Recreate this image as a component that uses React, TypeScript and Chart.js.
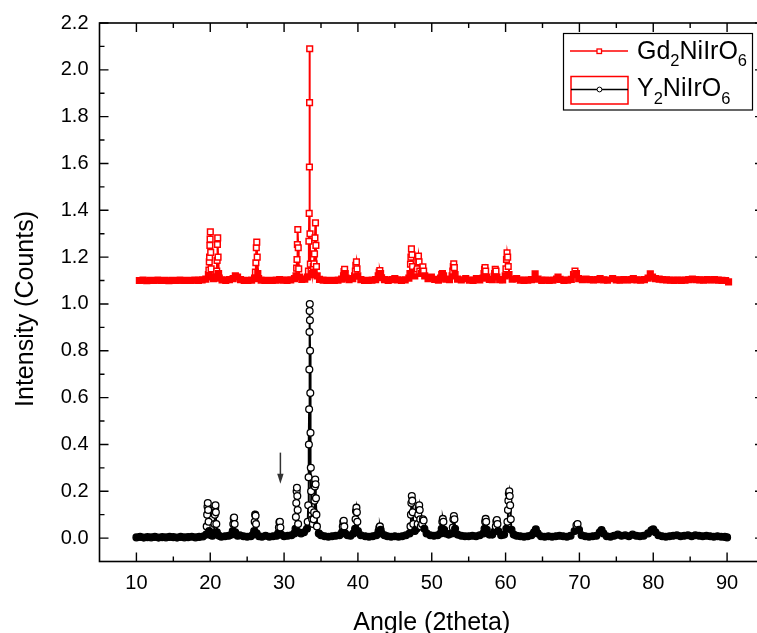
import React, { useEffect, useRef } from "react";
import { Chart, registerables } from "chart.js";

Chart.register(...registerables);

const FONT = "'Liberation Sans', Arial, sans-serif";

const xTicks = [10, 20, 30, 40, 50, 60, 70, 80, 90];
const xMinorTicks = [15, 25, 35, 45, 55, 65, 75, 85];
const yTicks = [0, 0.2, 0.4, 0.6, 0.8, 1.0, 1.2, 1.4, 1.6, 1.8, 2.0, 2.2];
const yMinorTicks = [0.1, 0.3, 0.5, 0.7, 0.9, 1.1, 1.3, 1.5, 1.7, 1.9, 2.1];

const xTitle = "Angle (2theta)";
const yTitle = "Intensity (Counts)";

// legend labels as [text, isSubscript] parts
const gdLabel: [string, boolean][] = [["Gd", false], ["2", true], ["NiIrO", false], ["6", true]];
const yLabel: [string, boolean][] = [["Y", false], ["2", true], ["NiIrO", false], ["6", true]];

const gdBase = 1.1;
const yBase = 0;

// arrow marker (angle, intensity from, intensity to)
const arrowMark = [29.5, 0.365, 0.232];

// Gd2NiIrO6 pattern (offset by +1.1)
const gdPattern: [number, number][] = [
  [10.4, 1.1], [10.9, 1.102], [11.4, 1.099], [11.9, 1.101], [12.4, 1.1], [12.9, 1.102], [13.4, 1.1], [13.9, 1.101],
  [14.4, 1.099], [14.9, 1.101], [15.4, 1.1], [15.9, 1.102], [16.4, 1.1], [16.9, 1.101], [17.4, 1.1], [17.9, 1.102],
  [18.4, 1.101], [18.9, 1.103], [19.4, 1.106],
  [19.75, 1.125], [19.82, 1.145], [19.87, 1.18], [19.91, 1.2], [19.95, 1.25], [19.98, 1.277], [20.01, 1.308], [20.06, 1.22], [20.12, 1.15], [20.2, 1.115],
  [20.45, 1.108],
  [20.8, 1.12], [20.88, 1.14], [20.93, 1.186], [20.97, 1.254], [21.01, 1.282], [21.06, 1.2], [21.13, 1.13], [21.22, 1.11],
  [21.6, 1.103], [22.1, 1.101], [22.6, 1.104], [23.1, 1.108], [23.4, 1.12], [23.7, 1.115], [24.1, 1.104], [24.6, 1.101], [25.1, 1.1], [25.6, 1.102], [26.0, 1.11],
  [26.12, 1.136], [26.18, 1.176], [26.24, 1.24], [26.3, 1.264], [26.36, 1.2], [26.44, 1.13], [26.55, 1.108],
  [26.9, 1.102], [27.4, 1.1], [27.9, 1.101], [28.4, 1.1], [28.9, 1.102], [29.4, 1.104], [29.9, 1.102], [30.4, 1.101], [30.9, 1.103], [31.4, 1.108],
  [31.62, 1.12], [31.7, 1.153], [31.75, 1.19], [31.8, 1.254], [31.86, 1.318], [31.92, 1.24], [31.98, 1.15], [32.08, 1.115],
  [32.4, 1.105], [32.8, 1.106], [33.15, 1.115],
  [33.3, 1.14], [33.36, 1.268], [33.4, 1.387], [33.43, 1.585], [33.45, 1.86], [33.47, 2.09], [33.51, 1.3], [33.56, 1.17], [33.65, 1.14], [33.75, 1.125], [33.85, 1.13], [33.95, 1.16],
  [34.05, 1.171], [34.12, 1.214], [34.18, 1.282], [34.25, 1.346], [34.31, 1.25], [34.38, 1.16], [34.48, 1.12],
  [34.8, 1.105], [35.3, 1.102], [35.8, 1.1], [36.3, 1.101], [36.8, 1.1], [37.3, 1.102], [37.8, 1.106],
  [38.05, 1.12], [38.12, 1.138], [38.2, 1.148], [38.28, 1.13], [38.4, 1.11],
  [38.8, 1.104], [39.3, 1.108], [39.55, 1.12],
  [39.65, 1.14], [39.72, 1.165], [39.8, 1.18], [39.88, 1.15], [39.98, 1.12],
  [40.4, 1.104], [40.9, 1.101], [41.4, 1.1], [41.9, 1.102], [42.4, 1.104], [42.75, 1.12],
  [42.88, 1.135], [42.97, 1.143], [43.07, 1.13], [43.2, 1.112],
  [43.6, 1.104], [44.1, 1.101], [44.6, 1.104], [45.0, 1.108], [45.4, 1.103], [45.9, 1.101], [46.4, 1.103], [46.9, 1.11],
  [47.05, 1.13], [47.12, 1.17], [47.18, 1.2], [47.25, 1.235], [47.32, 1.21], [47.4, 1.16], [47.5, 1.13],
  [47.7, 1.12], [47.95, 1.14],
  [48.05, 1.15], [48.12, 1.18], [48.2, 1.204], [48.28, 1.18], [48.38, 1.14],
  [48.62, 1.13], [48.72, 1.15], [48.8, 1.159], [48.9, 1.14], [49.05, 1.12],
  [49.5, 1.108], [49.95, 1.115], [50.4, 1.105], [50.9, 1.102], [51.2, 1.11],
  [51.35, 1.125], [51.45, 1.13], [51.6, 1.12],
  [51.9, 1.106], [52.4, 1.104], [52.75, 1.12],
  [52.85, 1.14], [52.92, 1.16], [52.98, 1.171], [53.06, 1.155], [53.16, 1.125],
  [53.5, 1.106], [54.0, 1.103], [54.6, 1.108], [55.1, 1.102], [55.6, 1.101], [56.05, 1.108], [56.5, 1.103], [56.95, 1.11],
  [57.08, 1.13], [57.15, 1.148], [57.22, 1.155], [57.3, 1.14], [57.42, 1.115],
  [57.8, 1.105], [58.2, 1.104], [58.45, 1.118],
  [58.52, 1.13], [58.6, 1.148], [58.7, 1.14], [58.82, 1.115],
  [59.2, 1.104], [59.6, 1.103], [59.95, 1.12],
  [60.05, 1.15], [60.12, 1.19], [60.2, 1.218], [60.28, 1.2], [60.36, 1.16], [60.46, 1.125],
  [60.9, 1.106], [61.5, 1.108], [62.0, 1.102], [62.5, 1.101], [63.0, 1.102], [63.5, 1.104], [64.0, 1.129], [64.4, 1.106],
  [64.9, 1.101], [65.4, 1.102], [65.9, 1.1], [66.4, 1.102], [66.9, 1.106], [67.1, 1.115], [67.4, 1.105], [67.9, 1.101],
  [68.4, 1.102], [68.9, 1.105], [69.2, 1.125], [69.4, 1.14], [69.6, 1.13], [69.9, 1.108], [70.4, 1.104], [70.9, 1.106],
  [71.4, 1.104], [71.9, 1.103], [72.4, 1.104], [72.8, 1.108], [73.3, 1.103], [73.8, 1.102], [74.5, 1.108], [75.0, 1.103],
  [75.5, 1.102], [76.0, 1.104], [76.5, 1.103], [77.0, 1.104], [77.3, 1.108], [77.8, 1.103], [78.3, 1.102], [78.8, 1.104],
  [79.3, 1.11], [79.6, 1.129], [79.9, 1.115], [80.3, 1.108], [80.8, 1.106], [81.3, 1.104], [81.8, 1.103], [82.3, 1.102],
  [82.8, 1.101], [83.3, 1.102], [83.8, 1.101], [84.3, 1.102], [84.8, 1.104], [85.3, 1.106], [85.8, 1.104], [86.3, 1.103],
  [86.8, 1.102], [87.3, 1.104], [87.8, 1.103], [88.3, 1.104], [88.8, 1.102], [89.3, 1.101], [89.8, 1.1], [90.2, 1.094],
];

// Y2NiIrO6 pattern
const yPattern: [number, number][] = [
  [10, 0.003], [10.5, 0.005], [11, 0.002], [11.5, 0.004], [12, 0.003], [12.5, 0.005], [13, 0.002], [13.5, 0.004],
  [14, 0.003], [14.5, 0.005], [15, 0.004], [15.5, 0.002], [16, 0.005], [16.5, 0.003], [17, 0.004], [17.5, 0.006],
  [18, 0.003], [18.5, 0.005], [19, 0.007],
  [19.45, 0.015], [19.52, 0.05], [19.58, 0.1], [19.63, 0.135], [19.67, 0.15], [19.72, 0.12], [19.78, 0.07], [19.85, 0.03],
  [20.1, 0.012], [20.3, 0.01],
  [20.5, 0.02], [20.57, 0.06], [20.62, 0.1], [20.67, 0.13], [20.71, 0.14], [20.76, 0.11], [20.82, 0.06], [20.9, 0.025],
  [21.2, 0.01], [21.5, 0.006], [22, 0.008], [22.5, 0.01], [22.9, 0.015],
  [23.05, 0.03], [23.12, 0.06], [23.18, 0.085], [23.23, 0.088], [23.3, 0.06], [23.38, 0.025],
  [23.7, 0.01], [24, 0.012], [24.5, 0.008], [25, 0.006], [25.5, 0.008], [25.8, 0.015],
  [25.95, 0.03], [26.02, 0.07], [26.08, 0.1], [26.14, 0.095], [26.2, 0.06], [26.28, 0.02],
  [26.6, 0.008], [27, 0.006], [27.5, 0.01], [28, 0.006], [28.5, 0.008], [29, 0.01], [29.2, 0.02],
  [29.3, 0.045], [29.37, 0.068], [29.43, 0.07], [29.5, 0.045], [29.6, 0.015],
  [30, 0.008], [30.5, 0.01], [31, 0.012], [31.4, 0.02],
  [31.55, 0.04], [31.6, 0.09], [31.65, 0.15], [31.7, 0.2], [31.74, 0.215], [31.79, 0.18], [31.84, 0.12], [31.9, 0.06], [31.98, 0.025],
  [32.3, 0.02], [32.7, 0.025], [33.1, 0.04],
  [33.2, 0.07], [33.27, 0.14], [33.32, 0.26], [33.36, 0.4], [33.39, 0.55], [33.42, 0.72], [33.44, 0.88], [33.46, 0.97],
  [33.48, 1.0], [33.5, 0.93], [33.52, 0.8], [33.55, 0.62], [33.58, 0.45], [33.62, 0.3], [33.66, 0.2], [33.72, 0.12], [33.8, 0.08],
  [33.9, 0.06], [34.0, 0.08],
  [34.07, 0.11], [34.12, 0.16], [34.17, 0.22], [34.22, 0.25], [34.27, 0.23], [34.32, 0.17], [34.38, 0.1], [34.45, 0.05],
  [34.7, 0.02], [35, 0.012], [35.5, 0.008], [36, 0.006], [36.5, 0.008], [37, 0.01], [37.5, 0.012], [37.85, 0.025],
  [37.95, 0.05], [38.02, 0.07], [38.08, 0.074], [38.15, 0.05], [38.25, 0.02],
  [38.6, 0.012], [39, 0.01], [39.4, 0.02],
  [39.62, 0.04], [39.68, 0.08], [39.74, 0.115], [39.8, 0.13], [39.86, 0.11], [39.92, 0.07], [40, 0.03],
  [40.4, 0.012], [41, 0.008], [41.5, 0.006], [42, 0.008], [42.5, 0.012], [42.8, 0.03],
  [42.9, 0.045], [42.98, 0.05], [43.08, 0.035], [43.2, 0.02],
  [43.6, 0.012], [44, 0.008], [44.5, 0.006], [45, 0.008], [45.5, 0.006], [46, 0.008], [46.5, 0.012], [47, 0.02],
  [47.12, 0.05], [47.18, 0.1], [47.24, 0.15], [47.3, 0.18], [47.36, 0.16], [47.42, 0.11], [47.5, 0.06],
  [47.7, 0.03], [47.95, 0.04],
  [48.1, 0.06], [48.17, 0.1], [48.24, 0.13], [48.3, 0.14], [48.37, 0.12], [48.44, 0.08], [48.52, 0.05],
  [48.7, 0.06], [48.8, 0.08], [48.9, 0.075], [49, 0.04],
  [49.3, 0.02], [49.8, 0.012], [50.3, 0.01], [50.8, 0.012], [51.2, 0.02],
  [51.35, 0.04], [51.43, 0.07], [51.5, 0.082], [51.58, 0.07], [51.68, 0.035],
  [51.9, 0.02], [52.3, 0.015], [52.7, 0.02],
  [52.85, 0.045], [52.93, 0.08], [53, 0.094], [53.07, 0.08], [53.16, 0.04],
  [53.5, 0.015], [54, 0.01], [54.5, 0.008], [55, 0.008], [55.5, 0.01], [56, 0.008], [56.5, 0.012], [57, 0.02],
  [57.15, 0.04], [57.23, 0.07], [57.3, 0.082], [57.37, 0.07], [57.46, 0.035],
  [57.8, 0.015], [58.2, 0.015], [58.55, 0.03],
  [58.68, 0.05], [58.75, 0.072], [58.82, 0.077], [58.9, 0.06], [59, 0.03],
  [59.4, 0.012], [59.8, 0.015], [60.1, 0.04],
  [60.25, 0.07], [60.32, 0.12], [60.38, 0.16], [60.44, 0.19], [60.5, 0.2], [60.56, 0.18], [60.62, 0.14], [60.7, 0.08], [60.8, 0.035],
  [61.1, 0.015], [61.5, 0.01], [62, 0.008], [62.5, 0.006], [63, 0.008], [63.5, 0.012], [63.85, 0.025], [64.1, 0.037], [64.35, 0.02],
  [64.8, 0.008], [65.3, 0.006], [65.8, 0.008], [66.3, 0.006], [66.8, 0.008], [67.3, 0.01], [67.8, 0.008], [68.3, 0.006],
  [68.8, 0.01], [69.35, 0.03], [69.6, 0.055], [69.75, 0.06], [69.95, 0.035], [70.3, 0.012],
  [70.8, 0.008], [71.3, 0.006], [71.8, 0.008], [72.3, 0.01], [72.75, 0.025], [73, 0.034], [73.25, 0.02], [73.7, 0.008],
  [74.2, 0.006], [74.7, 0.01], [75.2, 0.015], [75.7, 0.01], [76.2, 0.012], [76.7, 0.008], [77.2, 0.015], [77.7, 0.01],
  [78.2, 0.008], [78.7, 0.01], [79.3, 0.02], [79.75, 0.033], [80, 0.037], [80.3, 0.025], [80.7, 0.012], [81.2, 0.008],
  [81.7, 0.006], [82.2, 0.008], [82.7, 0.01], [83.2, 0.012], [83.7, 0.008], [84.2, 0.01], [84.7, 0.012], [85.2, 0.008],
  [85.7, 0.012], [86.2, 0.01], [86.7, 0.008], [87.2, 0.01], [87.7, 0.008], [88.2, 0.006], [88.7, 0.008], [89.2, 0.006],
  [89.7, 0.005], [90, 0.003],
];

const RED = "#ff0000";
const BLACK = "#000000";

function drawLabel(ctx: CanvasRenderingContext2D, parts: [string, boolean][], x: number, baseline: number) {
  let cx = x;
  for (const [t, sub] of parts) {
    ctx.font = sub ? `16.5px ${FONT}` : `25px ${FONT}`;
    ctx.fillText(t, cx, sub ? baseline + 7.5 : baseline);
    cx += ctx.measureText(t).width;
  }
}

const decorPlugin = {
  id: "decor",
  afterDraw(chart: any) {
    const { ctx, chartArea: a, scales } = chart;
    const xs = scales.x;
    const ys = scales.y;
    ctx.save();
    // frame
    ctx.strokeStyle = "#000";
    ctx.lineWidth = 1.6;
    ctx.strokeRect(a.left, a.top, a.right - a.left, a.bottom - a.top);
    // inward ticks
    ctx.lineWidth = 1.4;
    ctx.beginPath();
    const major = 9;
    const minor = 5;
    for (const v of xTicks) {
      const px = xs.getPixelForValue(v);
      ctx.moveTo(px, a.bottom); ctx.lineTo(px, a.bottom - major);
      ctx.moveTo(px, a.top); ctx.lineTo(px, a.top + major);
    }
    for (const v of xMinorTicks) {
      const px = xs.getPixelForValue(v);
      ctx.moveTo(px, a.bottom); ctx.lineTo(px, a.bottom - minor);
      ctx.moveTo(px, a.top); ctx.lineTo(px, a.top + minor);
    }
    for (const v of yTicks) {
      const py = ys.getPixelForValue(v);
      ctx.moveTo(a.left, py); ctx.lineTo(a.left + major, py);
      ctx.moveTo(a.right, py); ctx.lineTo(a.right - major, py);
    }
    for (const v of yMinorTicks) {
      const py = ys.getPixelForValue(v);
      ctx.moveTo(a.left, py); ctx.lineTo(a.left + minor, py);
      ctx.moveTo(a.right, py); ctx.lineTo(a.right - minor, py);
    }
    ctx.stroke();

    // arrow
    const ax = xs.getPixelForValue(arrowMark[0]);
    const ay1 = ys.getPixelForValue(arrowMark[1]);
    const ay2 = ys.getPixelForValue(arrowMark[2]);
    ctx.strokeStyle = "#333";
    ctx.fillStyle = "#333";
    ctx.lineWidth = 1.5;
    ctx.beginPath();
    ctx.moveTo(ax, ay1); ctx.lineTo(ax, ay2 - 8);
    ctx.stroke();
    ctx.beginPath();
    ctx.moveTo(ax - 3.2, ay2 - 10); ctx.lineTo(ax + 3.2, ay2 - 10); ctx.lineTo(ax, ay2);
    ctx.closePath();
    ctx.fill();

    // axis titles
    ctx.fillStyle = "#000";
    ctx.font = `25px ${FONT}`;
    ctx.textAlign = "center";
    ctx.textBaseline = "alphabetic";
    ctx.fillText(xTitle, (a.left + a.right) / 2, 630);
    ctx.save();
    ctx.translate(33, 309);
    ctx.rotate(-Math.PI / 2);
    ctx.fillText(yTitle, 0, 0);
    ctx.restore();

    // legend
    ctx.textAlign = "left";
    ctx.fillStyle = "#fff";
    ctx.fillRect(563.5, 33.5, 189, 76.5);
    ctx.strokeStyle = "#000";
    ctx.lineWidth = 1.2;
    ctx.strokeRect(563.5, 33.5, 189, 76.5);
    // entry 1
    ctx.strokeStyle = RED;
    ctx.lineWidth = 1.5;
    ctx.beginPath(); ctx.moveTo(570, 51); ctx.lineTo(628, 51); ctx.stroke();
    ctx.fillStyle = "#fff";
    ctx.fillRect(597, 49, 4.5, 4.5);
    ctx.lineWidth = 1.3;
    ctx.strokeRect(597, 49, 4.5, 4.5);
    // entry 2
    ctx.strokeStyle = RED;
    ctx.lineWidth = 1.5;
    ctx.strokeRect(571, 76.5, 57, 27.5);
    ctx.strokeStyle = BLACK;
    ctx.beginPath(); ctx.moveTo(571, 89.5); ctx.lineTo(628, 89.5); ctx.stroke();
    ctx.fillStyle = "#fff";
    ctx.lineWidth = 1;
    ctx.beginPath(); ctx.arc(599.5, 89.5, 2.4, 0, Math.PI * 2); ctx.fill(); ctx.stroke();
    ctx.fillStyle = "#000";
    drawLabel(ctx, gdLabel, 637, 58.5);
    drawLabel(ctx, yLabel, 637, 96);
    ctx.restore();
  },
};

export default function App() {
  const ref = useRef<HTMLCanvasElement | null>(null);
  useEffect(() => {
    if (!ref.current) return;
    const fill = (color: string, base: number, limit: number) => (c: any) => {
      const r = c.raw as [number, number] | undefined;
      if (!r) return "#fff";
      return r[1] - base < limit ? color : "#fff";
    };
    const chart = new Chart(ref.current, {
      type: "line",
      data: {
        datasets: [
          {
            label: "Gd2NiIrO6",
            data: gdPattern as any,
            borderColor: RED,
            borderWidth: 2,
            pointStyle: "rect",
            pointRadius: 4,
            pointBorderWidth: 1.5,
            pointBorderColor: RED,
            pointBackgroundColor: fill(RED, gdBase, 0.035),
            tension: 0,
          },
          {
            label: "Y2NiIrO6",
            data: yPattern as any,
            borderColor: BLACK,
            borderWidth: 2,
            pointStyle: "circle",
            pointRadius: 3.4,
            pointBorderWidth: 1.3,
            pointBorderColor: BLACK,
            pointBackgroundColor: fill(BLACK, yBase, 0.045),
            tension: 0,
          },
        ],
      },
      options: {
        responsive: false,
        animation: false,
        devicePixelRatio: 1,
        layout: { padding: { top: 21, right: 6, bottom: 0, left: 0 } },
        plugins: { legend: { display: false }, tooltip: { enabled: false } },
        scales: {
          x: {
            type: "linear",
            min: 5,
            max: 95,
            afterBuildTicks: (s: any) => {
              s.ticks = xTicks.map((v) => ({ value: v }));
            },
            afterFit: (s: any) => {
              s.height = 71.5;
            },
            ticks: {
              autoSkip: false,
              maxRotation: 0,
              padding: 10,
              color: "#000",
              font: { family: FONT, size: 20 },
              callback: (v: any) => String(v),
            },
            grid: { display: false, drawTicks: false },
            border: { display: false },
          },
          y: {
            type: "linear",
            min: -0.1,
            max: 2.2,
            afterBuildTicks: (s: any) => {
              s.ticks = yTicks.map((v) => ({ value: v }));
            },
            afterFit: (s: any) => {
              s.width = 99.5;
            },
            ticks: {
              autoSkip: false,
              padding: 11,
              color: "#000",
              font: { family: FONT, size: 20 },
              callback: (v: any) => Number(v).toFixed(1),
            },
            grid: { display: false, drawTicks: false },
            border: { display: false },
          },
        },
      },
      plugins: [decorPlugin],
    });
    return () => chart.destroy();
  }, []);
  return (
    <div style={{ position: "fixed", left: 0, top: 0, width: 757, height: 633, overflow: "hidden", background: "#fff" }}>
      <canvas ref={ref} width={770} height={633} style={{ display: "block", width: 770, height: 633 }} />
    </div>
  );
}
